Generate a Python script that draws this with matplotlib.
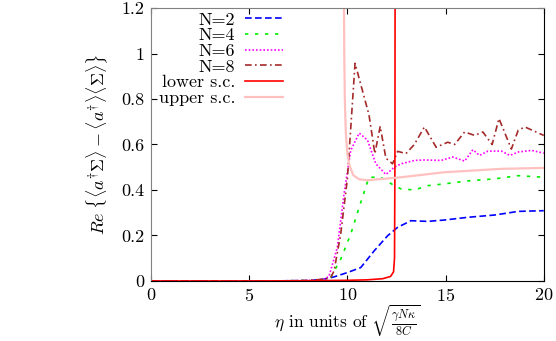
import matplotlib
matplotlib.use("Agg")
import matplotlib.pyplot as plt

plt.rcParams['font.family'] = 'serif'
plt.rcParams['font.serif'] = ['cmr10']
plt.rcParams['mathtext.fontset'] = 'cm'
plt.rcParams['axes.formatter.use_mathtext'] = True
plt.rcParams['font.size'] = 13

# N=2
x_n2 = [0, 6, 8, 8.8, 9.32, 10.0, 10.68, 11.36, 12.05, 12.56, 13.24, 14.09, 14.94, 16.14, 17.5, 18.7, 20]
y_n2 = [0, 0, 0.002, 0.008, 0.018, 0.037, 0.059, 0.132, 0.199, 0.236, 0.265, 0.262, 0.268, 0.28, 0.29, 0.306, 0.309]
# N=4
x_n4 = [0, 6, 8, 8.8, 9.15, 9.66, 10.17, 10.6, 11.1, 11.7, 12.39, 12.73, 13.41, 14.09, 14.94, 16.14, 17.5, 18.7, 20]
y_n4 = [0, 0, 0.002, 0.006, 0.015, 0.096, 0.206, 0.324, 0.456, 0.456, 0.419, 0.405, 0.40, 0.419, 0.427, 0.44, 0.449, 0.463, 0.456]
# N=6
x_n6 = [0, 6, 8, 8.8, 9.06, 9.49, 9.83, 10.17, 10.6, 11.02, 11.45, 11.96, 12.39, 12.73, 13.41, 13.92,
        14.77, 15.37, 15.97, 16.39, 16.73, 17.16, 17.84, 18.27, 18.7, 19.38, 20]
y_n6 = [0, 0, 0.002, 0.008, 0.02, 0.148, 0.383, 0.574, 0.65, 0.62, 0.515, 0.468, 0.50, 0.515, 0.53, 0.532,
        0.53, 0.545, 0.527, 0.577, 0.552, 0.571, 0.571, 0.552, 0.567, 0.574, 0.562]
# N=8
x_n8 = [0, 6, 8, 8.8, 9.15, 9.32, 9.66, 10.0, 10.39, 11.1, 11.4, 11.67, 11.96, 12.3, 12.56, 12.98, 13.41,
        13.92, 14.52, 15.11, 15.46, 15.97, 16.48, 16.9, 17.37, 17.72, 18.35, 18.7, 19.04, 20]
y_n8 = [0, 0, 0.002, 0.008, 0.015, 0.044, 0.206, 0.45, 0.957, 0.73, 0.56, 0.68, 0.54, 0.515, 0.57, 0.56, 0.60,
        0.677, 0.588, 0.61, 0.60, 0.655, 0.64, 0.655, 0.60, 0.714, 0.58, 0.663, 0.677, 0.64]
# lower / upper self-consistent solutions
x_low = [0, 5, 8, 10, 11, 11.8, 12.2, 12.35, 12.40, 12.42, 12.43]
y_low = [0, 0, 0.001, 0.003, 0.005, 0.01, 0.02, 0.04, 0.1, 0.5, 1.3]
x_up = [9.82, 9.84, 9.87, 9.92, 10.0, 10.1, 10.3, 10.6, 11.0, 12.0, 12.73, 14.94, 17.84, 20]
y_up = [1.3, 1.0, 0.8, 0.65, 0.56, 0.51, 0.465, 0.447, 0.443, 0.45, 0.456, 0.478, 0.493, 0.497]

fig = plt.figure(figsize=(5.56, 3.41), dpi=100)
ax = fig.add_axes([0.2716, 0.176, 0.7064, 0.8005])

ax.plot(x_n2, y_n2, color='#0000ff', lw=1.2, dashes=(4, 2), label='N=2')
ax.plot(x_n4, y_n4, color='#00ee00', lw=1.2, dashes=(2, 4), label='N=4')
ax.plot(x_n6, y_n6, color='#ff00ff', lw=1.2, dashes=(1, 1.2), label='N=6')
ax.plot(x_n8, y_n8, color='#a52a2a', lw=1.2, dashes=(4, 2, 1, 2), label='N=8')
ax.plot(x_low, y_low, color='#ff0000', lw=1.2, label='lower s.c.')
ax.plot(x_up, y_up, color='#ffc0c0', lw=1.6, label='upper s.c.')

ax.set_xlim(0, 20)
ax.set_ylim(0, 1.2)
ax.set_xticks([0, 5, 10, 15, 20])
ax.set_yticks([0, 0.2, 0.4, 0.6, 0.8, 1.0, 1.2])
ax.set_yticklabels(['0', '0.2', '0.4', '0.6', '0.8', '1', '1.2'])
ax.tick_params(direction='in', top=True, right=True, length=4, labelsize=13, pad=5)
ax.tick_params(axis='x', pad=4)

for s in ['left', 'top']:
    ax.spines[s].set_color('gray')
for s in ['right', 'bottom']:
    ax.spines[s].set_color('black')

ax.set_xlabel(r'$\eta$ in units of $\sqrt{\frac{\gamma N\kappa}{8C}}$', fontsize=12.5)
ax.xaxis.set_label_coords(0.5, -0.079)
ax.set_ylabel(r'$Re\;\{\langle a^{\dagger}\Sigma\rangle - \langle a^{\dagger}\rangle\langle\Sigma\rangle\}$',
              fontsize=13, labelpad=8)

ax.legend(loc='upper right', bbox_to_anchor=(0.336, 0.985), frameon=False, markerfirst=False,
          handlelength=2.1, handletextpad=0.55, labelspacing=0.0, borderpad=0, borderaxespad=0)

fig.savefig('out.png', dpi=100)
